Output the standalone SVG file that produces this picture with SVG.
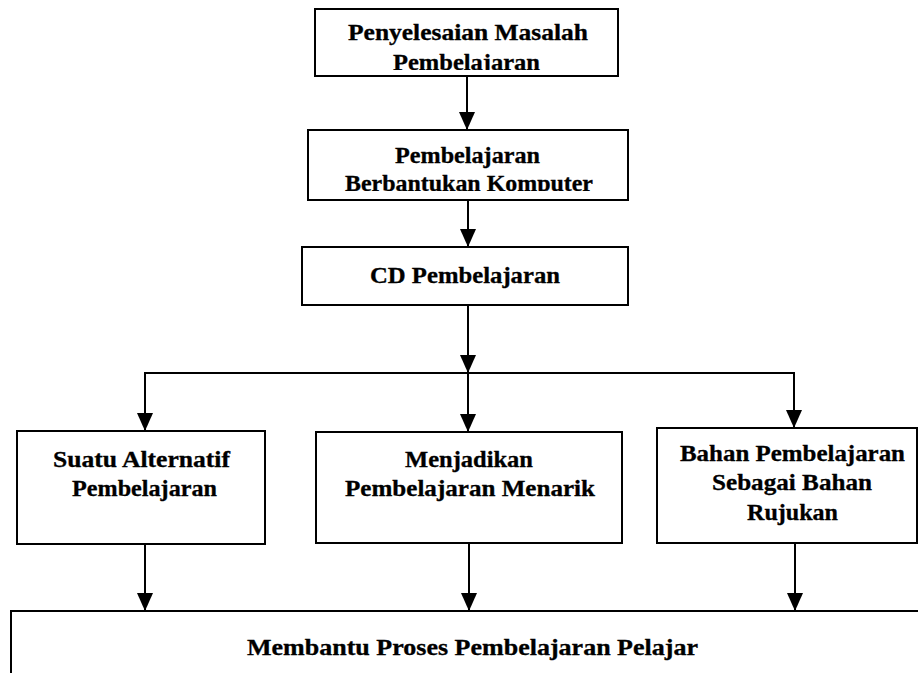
<svg xmlns="http://www.w3.org/2000/svg" width="918" height="673" viewBox="0 0 918 673">
<style>
.box{fill:#fff;stroke:#000;stroke-width:2}
.lbl{font-family:"Liberation Serif","Times New Roman",serif;font-weight:bold;font-size:22.5px;fill:#000;stroke:#000;stroke-width:0.3}
.con{fill:none;stroke:#000;stroke-width:2}
</style>
<defs>
<marker id="ah" markerUnits="userSpaceOnUse" markerWidth="18" markerHeight="16" viewBox="0 0 18 16" refX="18" refY="8" orient="auto">
<path d="M0,0 L18,8 L0,16 z" fill="#000"/>
</marker>
<clipPath id="c1"><rect x="300" y="45" width="340" height="25"/></clipPath>
<clipPath id="c2"><rect x="300" y="168" width="340" height="23"/></clipPath>
</defs>
<rect width="918" height="673" fill="#fff"/>
<g id="connectors">
<path class="con" d="M467,76 V130" marker-end="url(#ah)"/>
<path class="con" d="M468,200 V247" marker-end="url(#ah)"/>
<path class="con" d="M468,305 V373" marker-end="url(#ah)"/>
<path class="con" d="M145,430 V373 H794 V427"/>
<path class="con" d="M145,373 V431" marker-end="url(#ah)"/>
<path class="con" d="M468,373 V432" marker-end="url(#ah)"/>
<path class="con" d="M794,373 V428" marker-end="url(#ah)"/>
<path class="con" d="M145,544 V611" marker-end="url(#ah)"/>
<path class="con" d="M469,543 V611" marker-end="url(#ah)"/>
<path class="con" d="M795,543 V611" marker-end="url(#ah)"/>
</g>
<g id="n1">
<rect class="box" x="315" y="9" width="303" height="67"/>
<text class="lbl" x="348" y="40" textLength="240" lengthAdjust="spacingAndGlyphs">Penyelesaian Masalah</text>
<text class="lbl" x="393" y="70" textLength="147" lengthAdjust="spacingAndGlyphs" clip-path="url(#c1)">Pembelajaran</text>
</g>
<g id="n2">
<rect class="box" x="308" y="130" width="320" height="70"/>
<text class="lbl" x="395" y="163" textLength="145" lengthAdjust="spacingAndGlyphs">Pembelajaran</text>
<text class="lbl" x="345" y="191" textLength="248" lengthAdjust="spacingAndGlyphs" clip-path="url(#c2)">Berbantukan Komputer</text>
</g>
<g id="n3">
<rect class="box" x="302" y="247" width="326" height="58"/>
<text class="lbl" x="370" y="283" textLength="190" lengthAdjust="spacingAndGlyphs">CD Pembelajaran</text>
</g>
<g id="n4">
<rect class="box" x="17" y="431" width="248" height="113"/>
<text class="lbl" x="53" y="467" textLength="177" lengthAdjust="spacingAndGlyphs">Suatu Alternatif</text>
<text class="lbl" x="72" y="496" textLength="145" lengthAdjust="spacingAndGlyphs">Pembelajaran</text>
</g>
<g id="n5">
<rect class="box" x="316" y="432" width="306" height="111"/>
<text class="lbl" x="405" y="467" textLength="128" lengthAdjust="spacingAndGlyphs">Menjadikan</text>
<text class="lbl" x="345" y="496" textLength="250" lengthAdjust="spacingAndGlyphs">Pembelajaran Menarik</text>
</g>
<g id="n6">
<rect class="box" x="657" y="428" width="260" height="115"/>
<text class="lbl" x="680" y="461" textLength="225" lengthAdjust="spacingAndGlyphs">Bahan Pembelajaran</text>
<text class="lbl" x="712" y="490" textLength="160" lengthAdjust="spacingAndGlyphs">Sebagai Bahan</text>
<text class="lbl" x="747" y="520" textLength="91" lengthAdjust="spacingAndGlyphs">Rujukan</text>
</g>
<g id="n7">
<rect class="box" x="11" y="611" width="920" height="80"/>
<text class="lbl" x="247" y="655" textLength="451" lengthAdjust="spacingAndGlyphs">Membantu Proses Pembelajaran Pelajar</text>
</g>
</svg>
